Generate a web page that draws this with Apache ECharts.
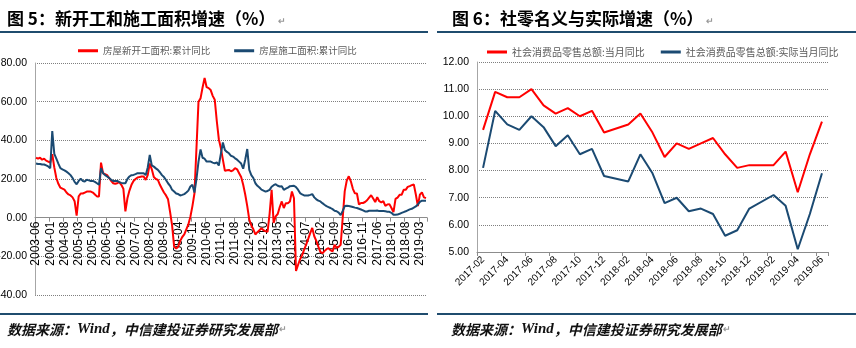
<!DOCTYPE html>
<html>
<head>
<meta charset="utf-8">
<script src="https://cdn.jsdelivr.net/npm/echarts@6/dist/echarts.min.js"></script>
<style>
html,body{margin:0;padding:0;background:#fff;}
#c{width:856px;height:348px;}
</style>
</head>
<body>
<div id="c"></div>
<script>
// ---------- Left chart data (monthly, 2003-06 .. 2019-06) ----------
const leftStart = [2003, 6];
const leftEnd = [2019, 6];
const newStartName = '房屋新开工面积:累计同比';
const underConsName = '房屋施工面积:累计同比';
const newStarts = [
  // 2003 06-12
  31, 30.5, 31, 30, 30.5, 29.5, 29,
  // 2004
  28.5, 32.8, 26, 20.5, 17.5, 15.5, 15, 14.5, 13, 12, 11.5, 10.5,
  // 2005
  8.5, 1, 11, 12.5, 12.5, 13, 13.5, 13.5, 13.5, 13, 12, 11,
  // 2006
  11, 28.5, 23, 22.5, 22, 20.5, 19, 17.8, 17.5, 17.8, 18.4, 17,
  // 2007
  15, 3.3, 10, 14, 17, 19, 20, 20.8, 21, 21.3, 21.3, 19.5,
  // 2008
  22, 28, 25, 21, 20, 19.5, 17, 15, 13, 11.5, 9.5, 3,
  // 2009
  -4, -15, -16, -15, -12, -10, -8.7, -6, -3.5, 0.5, 6, 12.5,
  // 2010
  36, 60, 61.7, 67.3, 72.2, 67.5, 67, 66, 63, 61, 50, 40.6,
  // 2011
  36, 30, 24.2, 24.5, 24.7, 24, 24.5, 25.6, 25, 23, 21, 17,
  // 2012
  12, 6, -1, -4, -6, -8.7, -7.5, -6.5, -5.5, -6.5, -7, -7.3,
  // 2013
  2, 14.4, -2.7, 0.7, 1.9, 5.5, 8.4, 5, 7.5, 7.5, 8.4, 13.5,
  // 2014
  10, -27.6, -24.5, -21.5, -19.5, -16.5, -13.9, -11, -8, -5.3, -9.6, -12,
  // 2015
  -15, -17.7, -18.4, -17.3, -16.3, -15.8, -16.8, -17.5, -14, -15.6, -15.1, -14,
  // 2016
  0, 13.7, 19.2, 21.4, 18.8, 14.9, 12.6, 12.5, 6.8, 7.6, 7.6, 8.1,
  // 2017
  9, 10.4, 11.6, 9.9, 8.1, 10.6, 8.5, 7.9, 8.5, 6.1, 6.8, 7.0,
  // 2018
  5, 2.9, 9.7, 10.4, 11.8, 11.8, 14.4, 14.4, 15.9, 16.3, 16.8, 17.2,
  // 2019 01-06
  12, 6.0, 11.9, 13.1, 10.5, 10.1
];
const underCons = [
  // 2003 06-12
  28, 27.8, 27.8, 27.5, 27.5, 27, 26.5,
  // 2004
  25.6, 44.8, 33, 30.5, 28, 25.6, 25, 24.5, 23.8, 23, 22, 20.5,
  // 2005
  18.5, 17.3, 19, 20.1, 19, 18.7, 19.6, 19.3, 19, 19, 18.5, 17.8,
  // 2006
  17, 25.6, 23, 22, 21.3, 20.5, 19.6, 19, 19, 19, 18.4, 18,
  // 2007
  17.8, 17.8, 20, 21.3, 22, 22.1, 22.5, 23, 23, 23, 23, 22,
  // 2008
  26, 32.4, 27, 26.4, 25.5, 24.7, 23.5, 22, 21, 19.5, 17.8, 16.5,
  // 2009
  14.4, 13.5, 12.5, 12.2, 11.5, 11.8, 12.2, 13, 14, 16.1, 17, 13,
  // 2010
  20, 29, 35.3, 31, 30.5, 29, 29, 29, 28.5, 28.1, 28.6, 27,
  // 2011
  33, 38.9, 35, 34, 33.3, 32, 31.6, 30.7, 30, 29, 28, 25.3,
  // 2012
  30, 35.5, 24.7, 22, 20.5, 17.8, 16.5, 15.6, 14.5, 14, 13.5, 13.8,
  // 2013
  14.4, 16, 16.8, 17.3, 16.5, 16.1, 16.3, 14.4, 15, 15.5, 16.3, 16.4,
  // 2014
  16.5, 15.8, 14.5, 12.7, 12, 11.5, 11.5, 11.5, 11.8, 12.2, 10.5, 9.5,
  // 2015
  8.8, 8.4, 7.5, 6.7, 6, 5.5, 5, 4.4, 3.6, 3.3, 2.6, 1.3,
  // 2016
  3.5, 6.0, 6.2, 6.0, 5.8, 5.5, 5.2, 5.0, 4.6, 4.2, 3.8, 3.2,
  // 2017
  3.2, 3.6, 3.6, 3.6, 3.6, 3.7, 3.4, 3.5, 3.4, 3.3, 3.1, 3.0,
  // 2018
  2.5, 1.5, 1.5, 1.6, 2, 2.5, 2.9, 3.3, 3.8, 4.3, 4.6, 5.2,
  // 2019 01-06
  5.8, 6.8, 8.2, 8.8, 8.8, 8.8
];
const leftYTicks = [-40, -20, 0, 20, 40, 60, 80];

// ---------- Right chart data (monthly, 2017-02 .. 2019-06; January not published) ----------
const rightMonths = [
  '2017-02','2017-03','2017-04','2017-05','2017-06','2017-07','2017-08','2017-09','2017-10','2017-11','2017-12',
  '2018-01','2018-02','2018-03','2018-04','2018-05','2018-06','2018-07','2018-08','2018-09','2018-10','2018-11','2018-12',
  '2019-01','2019-02','2019-03','2019-04','2019-05','2019-06'
];
const nominalName = '社会消费品零售总额:当月同比';
const realName = '社会消费品零售总额:实际当月同比';
const nominal = [9.5, 10.9, 10.7, 10.7, 11.0, 10.4, 10.1, 10.3, 10.0, 10.2, 9.4,
  null, 9.7, 10.1, 9.4, 8.5, 9.0, 8.8, 9.0, 9.2, 8.6, 8.1, 8.2,
  null, 8.2, 8.7, 7.2, 8.6, 9.8];
const realGrowth = [8.1, 10.2, 9.7, 9.5, 10.0, 9.6, 8.9, 9.3, 8.6, 8.8, 7.8,
  null, 7.6, 8.6, 7.9, 6.8, 7.0, 6.5, 6.6, 6.4, 5.6, 5.8, 6.6,
  null, 7.1, 6.7, 5.1, 6.4, 7.9];
const rightYTicks = [5, 6, 7, 8, 9, 10, 11, 12];

// ---------- Text ----------
const title5 = '图 5：新开工和施工面积增速（%）';
const title6 = '图 6：社零名义与实际增速（%）';
const sourceA = '数据来源：';
const sourceW = 'Wind';
const sourceB = '，中信建投证券研究发展部';

// build monthly category labels for the left chart
const leftMonths = [];
{
  let y = leftStart[0], m = leftStart[1];
  while (y < leftEnd[0] || (y === leftEnd[0] && m <= leftEnd[1])) {
    leftMonths.push(y + '-' + (m < 10 ? '0' + m : '' + m));
    m++; if (m > 12) { m = 1; y++; }
  }
}

const RED = '#ff0000';
const BLUE = '#1b4a72';
const RULE = '#1f4c6e';
const FONT = '"Liberation Sans", Arial, "Noto Sans CJK SC", sans-serif';
const CJK = '"Noto Sans CJK SC", "Liberation Sans", sans-serif';

// left grid geometry, used to put the category axis on the zero line
const LG = {left: 35, right: 429, top: 63, bottom: 53, outerBoundsMode: 'none', containLabel: false};
const leftPlotH = 348 - LG.top - LG.bottom;
const yMinL = leftYTicks[0], yMaxL = leftYTicks[leftYTicks.length - 1];
const zeroOffset = -leftPlotH * (0 - yMinL) / (yMaxL - yMinL);

const chart = echarts.init(document.getElementById('c'), null, {renderer: 'canvas'});

const titleRich = {
  t: {fontFamily: CJK, fontSize: 17, fontWeight: 'bold', color: '#000'},
  r: {fontFamily: FONT, fontSize: 9, color: '#999', padding: [6, 0, 0, 3]}
};
const footRich = {
  a: {fontFamily: CJK, fontSize: 14, fontStyle: 'italic', color: '#111'},
  w: {fontFamily: '"Liberation Serif", serif', fontSize: 15, fontStyle: 'italic', color: '#111'},
  r: {fontFamily: FONT, fontSize: 9, color: '#999', padding: [0, 0, 0, 1]}
};

const option = {
  animation: false,
  backgroundColor: '#fff',
  textStyle: {fontFamily: FONT},
  title: [
    {text: '{t|' + title5 + '}{r|↵}', left: 2, top: 5, textStyle: {rich: titleRich}},
    {text: '{t|' + title6 + '}{r|↵}', left: 447, top: 5, textStyle: {rich: titleRich}},
    {text: '{a|' + sourceA + '}{w|' + sourceW + '}{a|' + sourceB + '}{r|↵}', left: 2, top: 317, textStyle: {rich: footRich}},
    {text: '{a|' + sourceA + '}{w|' + sourceW + '}{a|' + sourceB + '}{r|↵}', left: 446, top: 317, textStyle: {rich: footRich}}
  ],
  graphic: [
    {type: 'line', shape: {x1: 0, y1: 32, x2: 428, y2: 32}, style: {stroke: RULE, lineWidth: 2}},
    {type: 'line', shape: {x1: 437, y1: 32, x2: 856, y2: 32}, style: {stroke: RULE, lineWidth: 2}},
    {type: 'line', shape: {x1: 0, y1: 314, x2: 428, y2: 314}, style: {stroke: RULE, lineWidth: 2}},
    {type: 'line', shape: {x1: 437, y1: 314, x2: 856, y2: 314}, style: {stroke: RULE, lineWidth: 2}}
  ],
  legend: [
    {
      data: [newStartName, underConsName], left: 78, top: 46, padding: 0, itemWidth: 20, itemHeight: 3, itemGap: 24,
      icon: 'rect', textStyle: {fontFamily: CJK, fontSize: 9.5, color: '#595959'}
    },
    {
      data: [nominalName, realName], left: 487, top: 47, padding: 0, itemWidth: 20, itemHeight: 3, itemGap: 16,
      icon: 'rect', textStyle: {fontFamily: CJK, fontSize: 10, color: '#595959'}
    }
  ],
  grid: [
    LG,
    {left: 477, right: 28, top: 62, bottom: 96, outerBoundsMode: 'none', containLabel: false}
  ],
  xAxis: [
    {
      type: 'category', gridIndex: 0, data: leftMonths, boundaryGap: true, position: 'bottom', offset: zeroOffset,
      axisLine: {onZero: false, lineStyle: {color: '#8c8c8c', width: 1}},
      axisTick: {show: true, interval: 6, length: 4, lineStyle: {color: '#8c8c8c'}},
      axisLabel: {interval: 6, rotate: 90, fontSize: 12, color: '#000', margin: 4, fontFamily: FONT}
    },
    {
      type: 'category', gridIndex: 1, data: rightMonths, boundaryGap: true,
      axisLine: {lineStyle: {color: '#8c8c8c', width: 1}},
      axisTick: {show: true, interval: 1, length: 4, lineStyle: {color: '#8c8c8c'}},
      axisLabel: {interval: 1, rotate: 45, fontSize: 10, color: '#000', margin: 6, fontFamily: FONT}
    }
  ],
  yAxis: [
    {
      type: 'value', gridIndex: 0, min: yMinL, max: yMaxL, interval: 20,
      axisLine: {show: true, lineStyle: {color: '#a6a6a6'}},
      axisTick: {show: false},
      splitLine: {show: true, lineStyle: {color: '#7f7f7f', type: 'dotted', width: 1}},
      axisLabel: {formatter: v => v.toFixed(2), fontSize: 10.5, color: '#000', margin: 8, fontFamily: FONT}
    },
    {
      type: 'value', gridIndex: 1, min: rightYTicks[0], max: rightYTicks[rightYTicks.length - 1], interval: 1,
      axisLine: {show: true, lineStyle: {color: '#a6a6a6'}},
      axisTick: {show: false},
      splitLine: {show: true, lineStyle: {color: '#7f7f7f', type: 'dotted', width: 1}},
      axisLabel: {formatter: v => v.toFixed(2), fontSize: 10.5, color: '#000', margin: 8, fontFamily: FONT}
    }
  ],
  series: [
    {name: newStartName, type: 'line', xAxisIndex: 0, yAxisIndex: 0, data: newStarts, showSymbol: false,
      connectNulls: true, lineStyle: {color: RED, width: 2}, itemStyle: {color: RED}, z: 3},
    {name: underConsName, type: 'line', xAxisIndex: 0, yAxisIndex: 0, data: underCons, showSymbol: false,
      connectNulls: true, lineStyle: {color: BLUE, width: 2}, itemStyle: {color: BLUE}, z: 4},
    {name: nominalName, type: 'line', xAxisIndex: 1, yAxisIndex: 1, data: nominal, showSymbol: false,
      connectNulls: true, lineStyle: {color: RED, width: 2}, itemStyle: {color: RED}},
    {name: realName, type: 'line', xAxisIndex: 1, yAxisIndex: 1, data: realGrowth, showSymbol: false,
      connectNulls: true, lineStyle: {color: BLUE, width: 2}, itemStyle: {color: BLUE}}
  ]
};
chart.setOption(option);
</script>
</body>
</html>
